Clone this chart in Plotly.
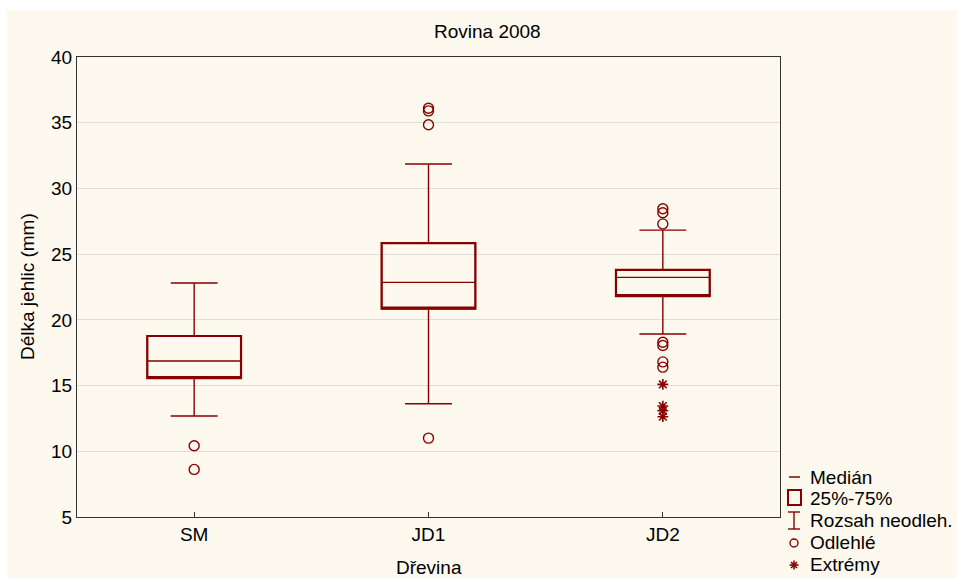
import plotly.graph_objects as go

# ---------------- data ----------------
categories = ["SM", "JD1", "JD2"]
q1 = [15.57, 20.85, 21.81]
medians = [16.87, 22.85, 23.23]
q3 = [18.77, 25.84, 23.80]
whisker_low = [12.68, 13.62, 18.92]
whisker_high = [22.80, 31.86, 26.83]

outlier_cat = ["SM", "SM", "JD1", "JD1", "JD1", "JD1",
               "JD2", "JD2", "JD2", "JD2", "JD2", "JD2", "JD2"]
outlier_val = [10.42, 8.62, 36.1, 35.9, 34.85, 11.0,
               28.45, 28.15, 27.3, 18.3, 18.05, 16.8, 16.4]

extreme_cat = ["JD2", "JD2", "JD2", "JD2"]
extreme_val = [15.09, 13.44, 13.08, 12.63]

y_ticks = [5, 10, 15, 20, 25, 30, 35, 40]
legend_labels = ["Medián", "25%-75%", "Rozsah neodleh.", "Odlehlé", "Extrémy"]

title_text = "Rovina 2008"
x_title = "Dřevina"
y_title = "Délka jehlic (mm)"

# ---------------- style ----------------
RED = "#870000"
FONT = "Liberation Sans, Arial, sans-serif"
FS = 19
W, H = 957, 578
L, R, T, B = 77, 780, 57, 517   # plot area in pixels


def px_x(px):
    return (px - L) / (R - L)


def px_y(py):
    return (B - py) / (B - T)


fig = go.Figure()

# full boxes (thin): whiskers, median, box
fig.add_trace(go.Box(
    x=categories, q1=q1, median=medians, q3=q3,
    lowerfence=whisker_low, upperfence=whisker_high,
    boxpoints=False, width=0.4, whiskerwidth=0.5,
    line=dict(color=RED, width=1.4), fillcolor="rgba(0,0,0,0)",
    showlegend=False, hoverinfo="skip"))
# thick box outline
fig.add_trace(go.Box(
    x=categories, q1=q1, median=q1, q3=q3,
    lowerfence=q1, upperfence=q3,
    boxpoints=False, width=0.4, whiskerwidth=0,
    line=dict(color=RED, width=2.2), fillcolor="rgba(0,0,0,0)",
    showlegend=False, hoverinfo="skip"))

fig.add_trace(go.Scatter(
    x=outlier_cat, y=outlier_val, mode="markers",
    marker=dict(symbol="circle-open", size=10, color=RED, line=dict(width=1.4)),
    showlegend=False, hoverinfo="skip"))
fig.add_trace(go.Scatter(
    x=extreme_cat, y=extreme_val, mode="markers",
    marker=dict(symbol="asterisk-open", size=9, color=RED, line=dict(width=1.6)),
    showlegend=False, hoverinfo="skip"))


def pline(x0, y0, x1, y1, w=1.4):
    return dict(type="line", xref="paper", yref="paper",
                x0=px_x(x0), x1=px_x(x1), y0=px_y(y0), y1=px_y(y1),
                line=dict(color=RED, width=w))


shapes = [
    # cream panel
    dict(type="rect", xref="paper", yref="paper", layer="below",
         x0=px_x(7), x1=px_x(W + 5), y0=px_y(H + 5), y1=px_y(10),
         fillcolor="#FEF9EF", line=dict(width=0)),
    # median glyph
    pline(789, 477, 800, 477, 1.5),
    # box glyph
    dict(type="rect", xref="paper", yref="paper",
         x0=px_x(788), x1=px_x(801), y0=px_y(505), y1=px_y(490),
         line=dict(color=RED, width=2)),
    # whisker glyph
    pline(794, 512, 794, 529),
    pline(788, 512, 800, 512),
    pline(788, 529, 800, 529),
    # outlier glyph
    dict(type="circle", xref="paper", yref="paper",
         x0=px_x(790), x1=px_x(798), y0=px_y(547), y1=px_y(539),
         line=dict(color=RED, width=1.4)),
    # extreme glyph (asterisk)
    pline(789.5, 565, 798.5, 565, 1.6),
    pline(794, 560.5, 794, 569.5, 1.6),
    pline(791, 562, 797, 568, 1.6),
    pline(791, 568, 797, 562, 1.6),
]

legend_y = [477, 498, 520, 542, 564]
annotations = []
for lab, ly in zip(legend_labels, legend_y):
    annotations.append(dict(
        text=lab, xref="paper", yref="paper", x=px_x(808), y=px_y(ly),
        xanchor="left", yanchor="middle", showarrow=False,
        font=dict(family=FONT, size=FS, color="black")))
annotations.append(dict(
    text=title_text, xref="paper", yref="paper", x=px_x(487), y=px_y(32),
    xanchor="center", yanchor="middle", showarrow=False,
    font=dict(family=FONT, size=FS, color="black")))
annotations.append(dict(
    text=x_title, xref="paper", yref="paper", x=0.5, y=px_y(567),
    xanchor="center", yanchor="middle", showarrow=False,
    font=dict(family=FONT, size=FS, color="black")))
annotations.append(dict(
    text=y_title, xref="paper", yref="paper", x=px_x(27), y=0.5,
    xanchor="center", yanchor="middle", showarrow=False, textangle=-90,
    font=dict(family=FONT, size=FS, color="black")))

fig.update_layout(
    width=W, height=H,
    margin=dict(l=L, r=W - R, t=T, b=H - B),
    paper_bgcolor="white", plot_bgcolor="white",
    boxmode="overlay",
    font=dict(family=FONT, size=FS, color="black"),
    shapes=shapes, annotations=annotations,
    xaxis=dict(
        type="category", categoryorder="array", categoryarray=categories,
        range=[-0.5, 2.5], showgrid=False, zeroline=False,
        showline=True, mirror=True, linecolor="#333333", linewidth=1,
        ticks="inside", ticklen=5, tickcolor="#333333",
        tickfont=dict(size=FS)),
    yaxis=dict(
        range=[5, 40], tickvals=y_ticks, showgrid=True, gridcolor="#DEDEDE",
        gridwidth=1, zeroline=False,
        showline=True, mirror=True, linecolor="#333333", linewidth=1,
        ticks="", tickfont=dict(size=FS)),
)

fig.write_html(
    "out.html",
    config={"displayModeBar": False},
    post_script="document.body.style.margin='0';document.body.style.overflow='hidden';")
